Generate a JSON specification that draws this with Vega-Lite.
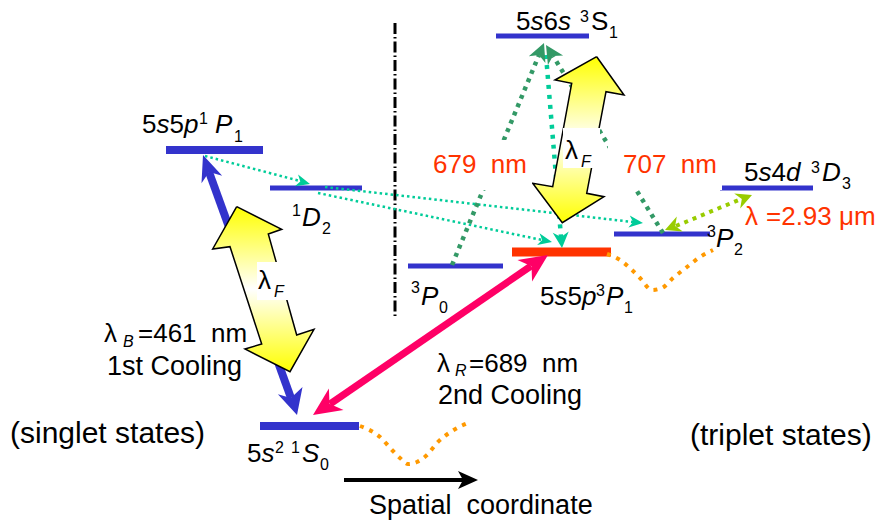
{
 "$schema": "https://vega.github.io/schema/vega-lite/v6.json",
 "width": 885, "height": 523,
 "autosize": {"type": "fit", "contains": "padding"},
 "padding": 0,
 "background": "white",
 "config": {"view": {"stroke": null}, "text": {"font": "Liberation Sans"}},
 "datasets": {
  "lv": [
   {"kind": "thick", "x": 166, "x2": 263, "y": 150},
   {"kind": "thick", "x": 260, "x2": 359, "y": 426},
   {"kind": "thin", "x": 270, "x2": 362, "y": 188},
   {"kind": "thin", "x": 496, "x2": 589, "y": 36},
   {"kind": "thin", "x": 408, "x2": 503, "y": 266},
   {"kind": "thin", "x": 614, "x2": 710, "y": 234},
   {"kind": "thin", "x": 720, "x2": 813, "y": 188},
   {"kind": "red", "x": 512, "x2": 611, "y": 252}
  ],
  "segs": [
   {"kind": "blue", "x": 209, "y": 172, "x2": 291, "y2": 398},
   {"kind": "pink", "x": 330, "y": 404, "x2": 531, "y2": 266},
   {"kind": "black", "x": 344, "y": 480, "x2": 464, "y2": 480},
   {"kind": "dashdot", "x": 395, "y": 23, "x2": 395, "y2": 317}
  ],
  "dl": [
   {"kind": "orange", "s": "w1", "i": 0, "x": 360, "y": 426},
   {"kind": "orange", "s": "w1", "i": 1, "x": 380, "y": 437},
   {"kind": "orange", "s": "w1", "i": 2, "x": 392, "y": 450},
   {"kind": "orange", "s": "w1", "i": 3, "x": 400, "y": 458},
   {"kind": "orange", "s": "w1", "i": 4, "x": 408, "y": 464},
   {"kind": "orange", "s": "w1", "i": 5, "x": 417, "y": 462},
   {"kind": "orange", "s": "w1", "i": 6, "x": 427, "y": 455},
   {"kind": "orange", "s": "w1", "i": 7, "x": 437, "y": 443},
   {"kind": "orange", "s": "w1", "i": 8, "x": 452, "y": 431},
   {"kind": "orange", "s": "w1", "i": 9, "x": 468, "y": 423},
   {"kind": "orange", "s": "w2", "i": 0, "x": 607, "y": 254},
   {"kind": "orange", "s": "w2", "i": 1, "x": 620, "y": 260},
   {"kind": "orange", "s": "w2", "i": 2, "x": 632, "y": 270},
   {"kind": "orange", "s": "w2", "i": 3, "x": 640, "y": 278},
   {"kind": "orange", "s": "w2", "i": 4, "x": 652, "y": 290},
   {"kind": "orange", "s": "w2", "i": 5, "x": 662, "y": 288},
   {"kind": "orange", "s": "w2", "i": 6, "x": 673, "y": 278},
   {"kind": "orange", "s": "w2", "i": 7, "x": 687, "y": 267},
   {"kind": "orange", "s": "w2", "i": 8, "x": 700, "y": 257},
   {"kind": "orange", "s": "w2", "i": 9, "x": 713, "y": 250},
   {"kind": "tealthin", "s": "a", "i": 0, "x": 205, "y": 156},
   {"kind": "tealthin", "s": "a", "i": 1, "x": 300, "y": 181},
   {"kind": "tealthin", "s": "b", "i": 0, "x": 325, "y": 187},
   {"kind": "tealthin", "s": "b", "i": 1, "x": 633, "y": 222},
   {"kind": "tealthin", "s": "c", "i": 0, "x": 318, "y": 193},
   {"kind": "tealthin", "s": "c", "i": 1, "x": 542, "y": 240},
   {"kind": "tealthick", "s": "d", "i": 0, "x": 546, "y": 55},
   {"kind": "tealthick", "s": "d", "i": 1, "x": 561, "y": 237},
   {"kind": "green", "s": "e", "i": 0, "x": 452, "y": 265},
   {"kind": "green", "s": "e", "i": 1, "x": 539, "y": 55},
   {"kind": "green", "s": "f", "i": 0, "x": 663, "y": 233},
   {"kind": "green", "s": "f", "i": 1, "x": 553, "y": 56},
   {"kind": "lime", "s": "g", "i": 0, "x": 676, "y": 226},
   {"kind": "lime", "s": "g", "i": 1, "x": 741, "y": 199}
  ],
  "heads": [
   {"kind": "blue", "s": "h1", "i": 0, "x": 203, "y": 155},
   {"kind": "blue", "s": "h1", "i": 1, "x": 222.2, "y": 175.7},
   {"kind": "blue", "s": "h1", "i": 2, "x": 209.1, "y": 171.9},
   {"kind": "blue", "s": "h1", "i": 3, "x": 201.5, "y": 183.2},
   {"kind": "blue", "s": "h2", "i": 0, "x": 297, "y": 415},
   {"kind": "blue", "s": "h2", "i": 1, "x": 302.5, "y": 386.9},
   {"kind": "blue", "s": "h2", "i": 2, "x": 290.9, "y": 398.1},
   {"kind": "blue", "s": "h2", "i": 3, "x": 277.9, "y": 394.3},
   {"kind": "pink", "s": "h3", "i": 0, "x": 548, "y": 255},
   {"kind": "pink", "s": "h3", "i": 1, "x": 532.1, "y": 281.5},
   {"kind": "pink", "s": "h3", "i": 2, "x": 531.5, "y": 266.3},
   {"kind": "pink", "s": "h3", "i": 3, "x": 517.5, "y": 260},
   {"kind": "pink", "s": "h4", "i": 0, "x": 313, "y": 415},
   {"kind": "pink", "s": "h4", "i": 1, "x": 343.5, "y": 410},
   {"kind": "pink", "s": "h4", "i": 2, "x": 329.5, "y": 403.7},
   {"kind": "pink", "s": "h4", "i": 3, "x": 328.9, "y": 388.5},
   {"kind": "teal", "s": "h5", "i": 0, "x": 310, "y": 184},
   {"kind": "teal", "s": "h5", "i": 1, "x": 294.9, "y": 186.2},
   {"kind": "teal", "s": "h5", "i": 2, "x": 300.3, "y": 181.4},
   {"kind": "teal", "s": "h5", "i": 3, "x": 298.1, "y": 174.6},
   {"kind": "teal", "s": "h6", "i": 0, "x": 643, "y": 223},
   {"kind": "teal", "s": "h6", "i": 1, "x": 628.4, "y": 227.4},
   {"kind": "teal", "s": "h6", "i": 2, "x": 633.1, "y": 221.9},
   {"kind": "teal", "s": "h6", "i": 3, "x": 629.8, "y": 215.4},
   {"kind": "teal", "s": "h7", "i": 0, "x": 552, "y": 242},
   {"kind": "teal", "s": "h7", "i": 1, "x": 537.1, "y": 245},
   {"kind": "teal", "s": "h7", "i": 2, "x": 542.2, "y": 240},
   {"kind": "teal", "s": "h7", "i": 3, "x": 539.5, "y": 233.2},
   {"kind": "teal", "s": "h8", "i": 0, "x": 562, "y": 248},
   {"kind": "teal", "s": "h8", "i": 1, "x": 552.7, "y": 232.7},
   {"kind": "teal", "s": "h8", "i": 2, "x": 561.1, "y": 237},
   {"kind": "teal", "s": "h8", "i": 3, "x": 568.7, "y": 231.4},
   {"kind": "green", "s": "h9", "i": 0, "x": 544, "y": 43},
   {"kind": "green", "s": "h9", "i": 1, "x": 545.4, "y": 63},
   {"kind": "green", "s": "h9", "i": 2, "x": 539, "y": 55},
   {"kind": "green", "s": "h9", "i": 3, "x": 528.8, "y": 56.2},
   {"kind": "green", "s": "h10", "i": 0, "x": 546, "y": 45},
   {"kind": "green", "s": "h10", "i": 1, "x": 563.1, "y": 55.6},
   {"kind": "green", "s": "h10", "i": 2, "x": 552.9, "y": 56},
   {"kind": "green", "s": "h10", "i": 3, "x": 547.9, "y": 65.1},
   {"kind": "lime", "s": "h11", "i": 0, "x": 752, "y": 195},
   {"kind": "lime", "s": "h11", "i": 1, "x": 740.2, "y": 208.4},
   {"kind": "lime", "s": "h11", "i": 2, "x": 741.8, "y": 199.1},
   {"kind": "lime", "s": "h11", "i": 3, "x": 734.2, "y": 193.6},
   {"kind": "lime", "s": "h12", "i": 0, "x": 665, "y": 230},
   {"kind": "lime", "s": "h12", "i": 1, "x": 682.8, "y": 231.4},
   {"kind": "lime", "s": "h12", "i": 2, "x": 675.2, "y": 225.9},
   {"kind": "lime", "s": "h12", "i": 3, "x": 676.8, "y": 216.6},
   {"kind": "black", "s": "h13", "i": 0, "x": 478, "y": 480},
   {"kind": "black", "s": "h13", "i": 1, "x": 458, "y": 489},
   {"kind": "black", "s": "h13", "i": 2, "x": 463, "y": 480},
   {"kind": "black", "s": "h13", "i": 3, "x": 458, "y": 471}
  ],
  "yel": [
   {"s": "yl", "i": 0, "x": 236.7, "y": 206.7},
   {"s": "yl", "i": 1, "x": 281.7, "y": 229.3},
   {"s": "yl", "i": 2, "x": 268.3, "y": 234},
   {"s": "yl", "i": 3, "x": 296.7, "y": 335},
   {"s": "yl", "i": 4, "x": 314, "y": 329.3},
   {"s": "yl", "i": 5, "x": 290, "y": 371.7},
   {"s": "yl", "i": 6, "x": 245, "y": 349},
   {"s": "yl", "i": 7, "x": 261.7, "y": 344},
   {"s": "yl", "i": 8, "x": 230, "y": 246.7},
   {"s": "yl", "i": 9, "x": 212.7, "y": 249},
   {"s": "yl", "i": 10, "x": 236.7, "y": 206.7},
   {"s": "yr", "i": 0, "x": 596.7, "y": 56.7},
   {"s": "yr", "i": 1, "x": 624, "y": 95},
   {"s": "yr", "i": 2, "x": 606, "y": 91.7},
   {"s": "yr", "i": 3, "x": 586.7, "y": 193.3},
   {"s": "yr", "i": 4, "x": 604, "y": 196.7},
   {"s": "yr", "i": 5, "x": 562.3, "y": 222.7},
   {"s": "yr", "i": 6, "x": 532.7, "y": 183.3},
   {"s": "yr", "i": 7, "x": 552.7, "y": 186.7},
   {"s": "yr", "i": 8, "x": 571.7, "y": 83.3},
   {"s": "yr", "i": 9, "x": 555, "y": 80},
   {"s": "yr", "i": 10, "x": 596.7, "y": 56.7}
  ],
  "wb": [
   {"x": 430, "x2": 532, "y": 140, "y2": 190},
   {"x": 608, "x2": 722, "y": 140, "y2": 190},
   {"x": 257, "x2": 290, "y": 262, "y2": 300},
   {"x": 563, "x2": 600, "y": 128, "y2": 168}
  ],
  "tx": [
   {"k": "n", "t": "5", "x": 516, "y": 30},
   {"k": "n", "t": "6", "x": 543.5, "y": 30},
   {"k": "n", "t": "S", "x": 591, "y": 30},
   {"k": "n", "t": "5", "x": 142, "y": 133},
   {"k": "n", "t": "5", "x": 169.5, "y": 133},
   {"k": "n", "t": "5", "x": 540, "y": 305},
   {"k": "n", "t": "5", "x": 567.5, "y": 305},
   {"k": "n", "t": "5", "x": 744, "y": 181},
   {"k": "n", "t": "4", "x": 771.5, "y": 181},
   {"k": "n", "t": "5", "x": 247, "y": 462},
   {"k": "n", "t": "λ", "x": 104, "y": 342},
   {"k": "n", "t": "=461 \u00a0nm", "x": 138, "y": 342},
   {"k": "n", "t": "λ", "x": 437, "y": 372},
   {"k": "n", "t": "=689 \u00a0nm", "x": 469, "y": 372},
   {"k": "n", "t": "λ", "x": 258, "y": 289},
   {"k": "n", "t": "λ", "x": 565, "y": 159},
   {"k": "c", "t": "1st Cooling", "x": 107, "y": 375},
   {"k": "c", "t": "2nd Cooling", "x": 438, "y": 404},
   {"k": "c", "t": "Spatial \u00a0coordinate", "x": 369, "y": 514},
   {"k": "i", "t": "s", "x": 530.5, "y": 30},
   {"k": "i", "t": "s", "x": 558, "y": 30},
   {"k": "i", "t": "s", "x": 156.5, "y": 133},
   {"k": "i", "t": "p", "x": 184, "y": 133},
   {"k": "i", "t": "P", "x": 215, "y": 133},
   {"k": "i", "t": "D", "x": 302, "y": 226},
   {"k": "i", "t": "P", "x": 421, "y": 305},
   {"k": "i", "t": "s", "x": 554.5, "y": 305},
   {"k": "i", "t": "p", "x": 582, "y": 305},
   {"k": "i", "t": "P", "x": 606, "y": 305},
   {"k": "i", "t": "P", "x": 716, "y": 247},
   {"k": "i", "t": "s", "x": 758.5, "y": 181},
   {"k": "i", "t": "d", "x": 786, "y": 181},
   {"k": "i", "t": "D", "x": 822, "y": 181},
   {"k": "i", "t": "s", "x": 261.5, "y": 462},
   {"k": "i", "t": "S", "x": 302, "y": 462},
   {"k": "sn", "t": "3", "x": 580, "y": 22},
   {"k": "sn", "t": "1", "x": 609, "y": 38},
   {"k": "sn", "t": "1", "x": 199, "y": 124},
   {"k": "sn", "t": "1", "x": 234, "y": 142},
   {"k": "sn", "t": "1", "x": 292, "y": 216},
   {"k": "sn", "t": "2", "x": 322, "y": 234},
   {"k": "sn", "t": "3", "x": 411, "y": 293},
   {"k": "sn", "t": "0", "x": 439, "y": 313},
   {"k": "sn", "t": "3", "x": 596, "y": 296},
   {"k": "sn", "t": "1", "x": 624, "y": 313},
   {"k": "sn", "t": "3", "x": 707, "y": 237},
   {"k": "sn", "t": "2", "x": 734, "y": 255},
   {"k": "sn", "t": "3", "x": 811, "y": 173},
   {"k": "sn", "t": "3", "x": 842, "y": 189},
   {"k": "sn", "t": "2", "x": 275, "y": 453},
   {"k": "sn", "t": "1", "x": 291, "y": 453},
   {"k": "sn", "t": "0", "x": 320, "y": 470},
   {"k": "si", "t": "B", "x": 123, "y": 347},
   {"k": "si", "t": "R", "x": 455, "y": 376},
   {"k": "si", "t": "F", "x": 274, "y": 297},
   {"k": "si", "t": "F", "x": 581, "y": 167},
   {"k": "r", "t": "679 \u00a0nm", "x": 433, "y": 173},
   {"k": "r", "t": "707 \u00a0nm", "x": 623, "y": 173},
   {"k": "r", "t": "λ", "x": 745, "y": 225},
   {"k": "r", "t": "=2.93 μm", "x": 766, "y": 225},
   {"k": "big", "t": "(singlet states)", "x": 10, "y": 443},
   {"k": "big", "t": "(triplet states)", "x": 690, "y": 445}
  ]
 },
 "layer": [
  {
   "data": {"name": "lv"}, "transform": [{"filter": "datum.kind == 'thin'"}],
   "mark": {"type": "rule", "color": "#3333cc", "strokeWidth": 5},
   "encoding": {
    "x": {"field": "x", "type": "quantitative", "scale": {"domain": [0, 885], "nice": false, "zero": false}, "axis": null},
    "x2": {"field": "x2"},
    "y": {"field": "y", "type": "quantitative", "scale": {"domain": [0, 523], "reverse": true, "nice": false, "zero": false}, "axis": null}
   }
  },
  {
   "data": {"name": "lv"}, "transform": [{"filter": "datum.kind == 'thick'"}],
   "mark": {"type": "rule", "color": "#3333cc", "strokeWidth": 8},
   "encoding": {
    "x": {"field": "x", "type": "quantitative"}, "x2": {"field": "x2"},
    "y": {"field": "y", "type": "quantitative"}
   }
  },
  {
   "data": {"name": "lv"}, "transform": [{"filter": "datum.kind == 'red'"}],
   "mark": {"type": "rule", "color": "#ff3300", "strokeWidth": 9},
   "encoding": {
    "x": {"field": "x", "type": "quantitative"}, "x2": {"field": "x2"},
    "y": {"field": "y", "type": "quantitative"}
   }
  },
  {
   "data": {"name": "segs"}, "transform": [{"filter": "datum.kind == 'dashdot'"}],
   "mark": {"type": "rule", "color": "black", "strokeWidth": 3, "strokeDash": [11, 3, 1.5, 3]},
   "encoding": {
    "x": {"field": "x", "type": "quantitative"}, "x2": {"field": "x2"},
    "y": {"field": "y", "type": "quantitative"}, "y2": {"field": "y2"}
   }
  },
  {
   "data": {"name": "dl"}, "transform": [{"filter": "datum.kind == 'orange'"}],
   "mark": {"type": "line", "color": "#ff9900", "strokeWidth": 4, "strokeDash": [4, 6], "interpolate": "monotone"},
   "encoding": {
    "x": {"field": "x", "type": "quantitative"}, "y": {"field": "y", "type": "quantitative"},
    "detail": {"field": "s"}, "order": {"field": "i"}
   }
  },
  {
   "data": {"name": "dl"}, "transform": [{"filter": "datum.kind == 'tealthin'"}],
   "mark": {"type": "line", "color": "#00cc99", "strokeWidth": 2.5, "strokeDash": [2.5, 3]},
   "encoding": {
    "x": {"field": "x", "type": "quantitative"}, "y": {"field": "y", "type": "quantitative"},
    "detail": {"field": "s"}, "order": {"field": "i"}
   }
  },
  {
   "data": {"name": "dl"}, "transform": [{"filter": "datum.kind == 'tealthick'"}],
   "mark": {"type": "line", "color": "#00cc99", "strokeWidth": 4.5, "strokeDash": [4, 6]},
   "encoding": {
    "x": {"field": "x", "type": "quantitative"}, "y": {"field": "y", "type": "quantitative"},
    "detail": {"field": "s"}, "order": {"field": "i"}
   }
  },
  {
   "data": {"name": "dl"}, "transform": [{"filter": "datum.kind == 'green'"}],
   "mark": {"type": "line", "color": "#339966", "strokeWidth": 4.5, "strokeDash": [4, 5]},
   "encoding": {
    "x": {"field": "x", "type": "quantitative"}, "y": {"field": "y", "type": "quantitative"},
    "detail": {"field": "s"}, "order": {"field": "i"}
   }
  },
  {
   "data": {"name": "dl"}, "transform": [{"filter": "datum.kind == 'lime'"}],
   "mark": {"type": "line", "color": "#99cc00", "strokeWidth": 4, "strokeDash": [4, 5]},
   "encoding": {
    "x": {"field": "x", "type": "quantitative"}, "y": {"field": "y", "type": "quantitative"},
    "detail": {"field": "s"}, "order": {"field": "i"}
   }
  },
  {
   "data": {"name": "segs"}, "transform": [{"filter": "datum.kind == 'blue'"}],
   "mark": {"type": "rule", "color": "#3333cc", "strokeWidth": 8},
   "encoding": {
    "x": {"field": "x", "type": "quantitative"}, "x2": {"field": "x2"},
    "y": {"field": "y", "type": "quantitative"}, "y2": {"field": "y2"}
   }
  },
  {
   "data": {"name": "segs"}, "transform": [{"filter": "datum.kind == 'pink'"}],
   "mark": {"type": "rule", "color": "#ff0066", "strokeWidth": 7},
   "encoding": {
    "x": {"field": "x", "type": "quantitative"}, "x2": {"field": "x2"},
    "y": {"field": "y", "type": "quantitative"}, "y2": {"field": "y2"}
   }
  },
  {
   "data": {"name": "segs"}, "transform": [{"filter": "datum.kind == 'black'"}],
   "mark": {"type": "rule", "color": "black", "strokeWidth": 4},
   "encoding": {
    "x": {"field": "x", "type": "quantitative"}, "x2": {"field": "x2"},
    "y": {"field": "y", "type": "quantitative"}, "y2": {"field": "y2"}
   }
  },
  {
   "data": {"name": "heads"},
   "mark": {"type": "line", "filled": true, "strokeWidth": 0},
   "encoding": {
    "x": {"field": "x", "type": "quantitative"}, "y": {"field": "y", "type": "quantitative"},
    "detail": {"field": "s"}, "order": {"field": "i"},
    "color": {"field": "kind", "type": "nominal", "legend": null,
     "scale": {"domain": ["blue", "pink", "teal", "green", "lime", "black"], "range": ["#3333cc", "#ff0066", "#00cc99", "#339966", "#99cc00", "#000000"]}}
   }
  },
  {
   "data": {"name": "yel"},
   "mark": {"type": "line", "filled": true, "stroke": "black", "strokeWidth": 1.5, "strokeJoin": "miter",
    "fill": {"gradient": "linear", "x1": 0, "y1": 0, "x2": 0, "y2": 1,
     "stops": [{"offset": 0, "color": "#ffff00"}, {"offset": 0.5, "color": "#ffffff"}, {"offset": 1, "color": "#ffff00"}]}},
   "encoding": {
    "x": {"field": "x", "type": "quantitative"}, "y": {"field": "y", "type": "quantitative"},
    "detail": {"field": "s"}, "order": {"field": "i"}
   }
  },
  {
   "data": {"name": "wb"},
   "mark": {"type": "rect", "color": "white"},
   "encoding": {
    "x": {"field": "x", "type": "quantitative"}, "x2": {"field": "x2"},
    "y": {"field": "y", "type": "quantitative"}, "y2": {"field": "y2"}
   }
  },
  {
   "data": {"name": "tx"}, "transform": [{"filter": "datum.k == 'n'"}],
   "mark": {"type": "text", "align": "left", "baseline": "alphabetic", "fontSize": 26, "color": "black"},
   "encoding": {"x": {"field": "x", "type": "quantitative"}, "y": {"field": "y", "type": "quantitative"}, "text": {"field": "t"}}
  },
  {
   "data": {"name": "tx"}, "transform": [{"filter": "datum.k == 'c'"}],
   "mark": {"type": "text", "align": "left", "baseline": "alphabetic", "fontSize": 27, "color": "black"},
   "encoding": {"x": {"field": "x", "type": "quantitative"}, "y": {"field": "y", "type": "quantitative"}, "text": {"field": "t"}}
  },
  {
   "data": {"name": "tx"}, "transform": [{"filter": "datum.k == 'i'"}],
   "mark": {"type": "text", "align": "left", "baseline": "alphabetic", "fontSize": 26, "fontStyle": "italic", "color": "black"},
   "encoding": {"x": {"field": "x", "type": "quantitative"}, "y": {"field": "y", "type": "quantitative"}, "text": {"field": "t"}}
  },
  {
   "data": {"name": "tx"}, "transform": [{"filter": "datum.k == 'sn'"}],
   "mark": {"type": "text", "align": "left", "baseline": "alphabetic", "fontSize": 16, "color": "black"},
   "encoding": {"x": {"field": "x", "type": "quantitative"}, "y": {"field": "y", "type": "quantitative"}, "text": {"field": "t"}}
  },
  {
   "data": {"name": "tx"}, "transform": [{"filter": "datum.k == 'si'"}],
   "mark": {"type": "text", "align": "left", "baseline": "alphabetic", "fontSize": 16, "fontStyle": "italic", "color": "black"},
   "encoding": {"x": {"field": "x", "type": "quantitative"}, "y": {"field": "y", "type": "quantitative"}, "text": {"field": "t"}}
  },
  {
   "data": {"name": "tx"}, "transform": [{"filter": "datum.k == 'r'"}],
   "mark": {"type": "text", "align": "left", "baseline": "alphabetic", "fontSize": 26, "color": "#ff3300"},
   "encoding": {"x": {"field": "x", "type": "quantitative"}, "y": {"field": "y", "type": "quantitative"}, "text": {"field": "t"}}
  },
  {
   "data": {"name": "tx"}, "transform": [{"filter": "datum.k == 'big'"}],
   "mark": {"type": "text", "align": "left", "baseline": "alphabetic", "fontSize": 30, "color": "black"},
   "encoding": {"x": {"field": "x", "type": "quantitative"}, "y": {"field": "y", "type": "quantitative"}, "text": {"field": "t"}}
  }
 ]
}
